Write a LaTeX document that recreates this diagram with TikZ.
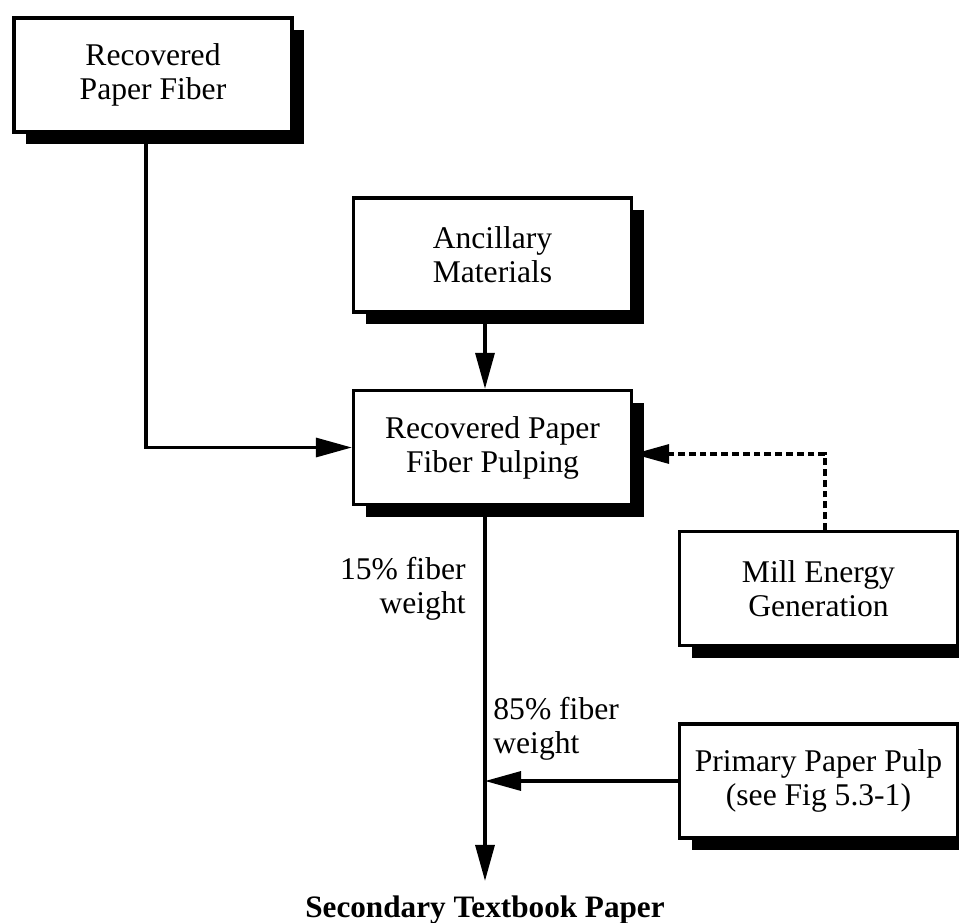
\documentclass[tikz,border=0pt]{standalone}
\usepackage{fontspec}
\setmainfont{Liberation Serif}
\usetikzlibrary{arrows.meta,shadows}
\begin{document}
\begin{tikzpicture}[x=0.5pt,y=-0.5pt,
  every node/.style={font=\fontsize{15.8pt}{17pt}\selectfont},
  procbox/.style={draw, line width=1.65pt, fill=white, align=center,
    minimum width=139pt, minimum height=57pt, inner sep=0pt,
    general shadow={fill=black, shadow xshift=6pt, shadow yshift=-6pt}},
  flow/.style={line width=1.65pt, -{Triangle[length=18pt,width=9.5pt]}},
  energy/.style={flow, dash pattern=on 3.4pt off 2pt},
  note/.style={inner sep=0pt}]
  \clip (0,0) rectangle (959,922);

  % process boxes
  \node[procbox] (rpf)  at (153,75)    {Recovered\\Paper Fiber};
  \node[procbox] (anc)  at (492.5,255) {Ancillary\\Materials};
  \node[procbox] (pulp) at (492.5,447.5) {Recovered Paper\\Fiber Pulping};
  \node[procbox] (mill) at (818.5,588.5) {Mill Energy\\Generation};
  \node[procbox] (prim) at (818.5,781) {Primary Paper Pulp\\(see Fig 5.3-1)};

  % product
  \node[note, anchor=base, font=\fontsize{15.6pt}{17pt}\selectfont\bfseries]
    (out) at (485,917) {Secondary Textbook Paper};

  % flow labels
  \node[note, align=right, anchor=north east] (l15) at (466,557) {15\% fiber\\weight};
  \node[note, align=left, anchor=north west] (l85) at (493,697) {85\% fiber\\weight};

  % routing points
  \coordinate (trunk) at (485,0);
  \coordinate (rpfdrop) at (146,0);
  \coordinate (millup) at (825,454);

  % connectors
  \draw[flow] (rpf.south -| rpfdrop) |- (pulp.west);
  \draw[flow] (anc.south -| trunk) -- (pulp.north -| trunk);
  \draw[energy] (mill.north -| millup) |- (pulp.east |- millup);
  \draw[flow] (pulp.south -| trunk) -- ([yshift=7pt]out.north);
  \draw[flow] (prim.west) -- (prim.west -| trunk);
\end{tikzpicture}
\end{document}
